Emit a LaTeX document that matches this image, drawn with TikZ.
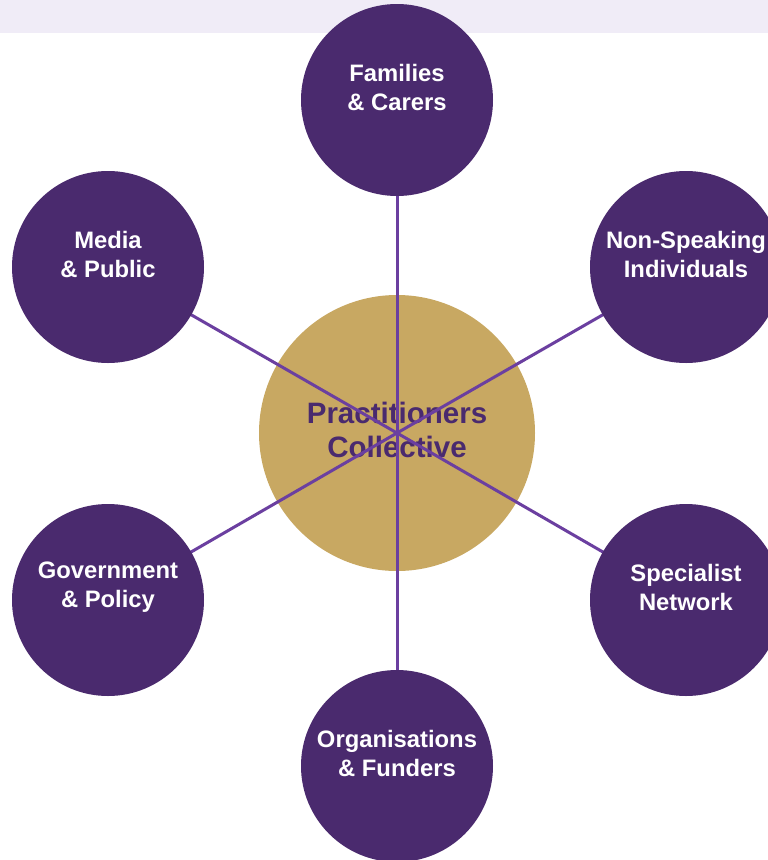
\documentclass[tikz,border=0pt]{standalone}
\usepackage{fontspec}
\setmainfont{Liberation Sans}
\definecolor{band}{HTML}{F0ECF7}
\definecolor{deep}{HTML}{4A2A6E}
\definecolor{spoke}{HTML}{6B3FA0}
\definecolor{gold}{HTML}{C8A862}
\begin{document}
\begin{tikzpicture}[x=1pt,y=-1pt,
  outer/.style={circle,fill=deep,minimum size=192pt,inner sep=0pt},
  outertext/.style={text=white,font=\fontsize{23.8}{29}\selectfont\bfseries,align=center},
  hub/.style={circle,fill=gold,minimum size=276pt,inner sep=0pt},
  hubtext/.style={text=deep,font=\fontsize{29.5}{34}\selectfont\bfseries,align=center},
  spokeline/.style={draw=spoke,line width=3pt}]
\useasboundingbox (0,0) rectangle (768,860);
\begin{scope}
\clip (0,0) rectangle (768,860);
\fill[white] (0,0) rectangle (768,860);
\fill[band] (0,0) rectangle (768,33);
\node[hub] (c) at (397,433) {};
\node[hubtext] (ct) at (397,430) {Practitioners\\Collective};
\coordinate (pfam) at (397,100);
\coordinate (pnon) at (686,267);
\coordinate (pspe) at (686,600);
\coordinate (porg) at (397,766);
\coordinate (pgov) at (108,600);
\coordinate (pmed) at (108,267);
\foreach \p in {pfam,pnon,pspe,porg,pgov,pmed}
  \draw[spokeline] (c.center) -- (\p);
\node[outer] (fam) at (pfam) {};
\node[outer] (non) at (pnon) {};
\node[outer] (spe) at (pspe) {};
\node[outer] (org) at (porg) {};
\node[outer] (gov) at (pgov) {};
\node[outer] (med) at (pmed) {};
\node[outertext] (famt) at ([yshift=13pt]fam.center) {Families\\\& Carers};
\node[outertext] (nont) at ([yshift=13pt]non.center) {Non-Speaking\\Individuals};
\node[outertext] (spet) at ([yshift=13pt]spe.center) {Specialist\\Network};
\node[outertext] (orgt) at ([yshift=13pt]org.center) {Organisations\\\& Funders};
\node[outertext] (govt) at ([yshift=13pt]gov.center) {Government\\\& Policy};
\node[outertext] (medt) at ([yshift=13pt]med.center) {Media\\\& Public};
\end{scope}
\end{tikzpicture}
\end{document}
